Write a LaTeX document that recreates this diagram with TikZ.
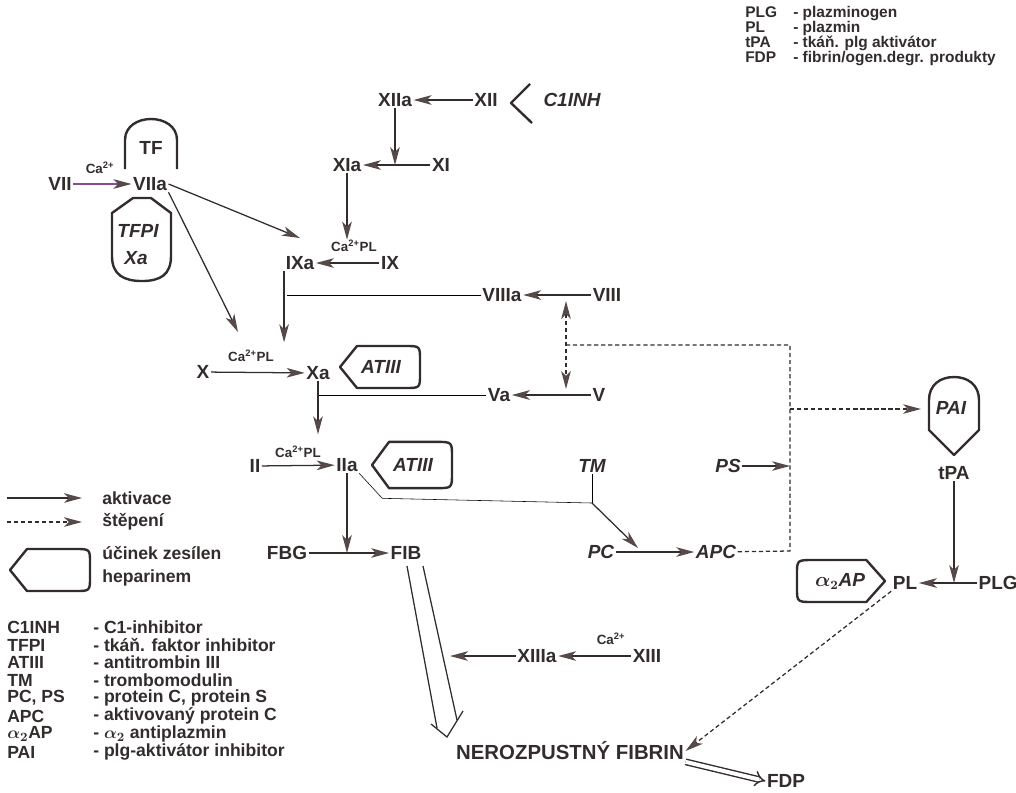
\documentclass[tikz,border=0pt]{standalone}
\usepackage{fontspec}
\setmainfont{Liberation Sans}
\usetikzlibrary{arrows.meta}

\definecolor{ink}{RGB}{50,44,44}
\definecolor{headc}{RGB}{86,74,72}
\definecolor{vio}{RGB}{140,72,150}

\tikzset{
  lbl/.style={font=\fontsize{13.5}{15}\selectfont\bfseries, inner sep=1pt, text=ink},
  inh/.style={lbl, font=\fontsize{13.5}{15}\selectfont\bfseries\itshape},
  ion/.style={font=\fontsize{9.5}{10}\selectfont\bfseries, inner sep=0pt, text=ink},
  leg/.style={font=\fontsize{12.5}{14}\selectfont\bfseries, inner sep=0pt, anchor=west, text=ink},
  legtop/.style={leg, font=\fontsize{11}{12}\selectfont\bfseries, text height=7pt, text depth=1.5pt},
  act/.style={draw=ink, line width=0.9pt,
    >={Stealth[length=4.5mm,width=2.4mm,inset=1.2mm,color=headc]}, ->},
  cleave/.style={act, dash pattern=on 3pt off 2pt},
  wall/.style={draw=ink, line width=1.7pt, line join=round},
  bulk/.style={draw=ink, line width=1pt, double, double distance=0.1cm, -{Implies}},
  heparin/.pic={
    \draw[wall] (0,0) -- (17,-21) -- (65,-21) .. controls (80,-21) and (80,-21) .. (80,-7)
      -- (80,7) .. controls (80,21) and (80,21) .. (65,21) -- (17,21) -- cycle;
  }
}

\begin{document}
\begin{tikzpicture}[x=0.025cm,y=-0.025cm]
\useasboundingbox (0,0) rectangle (1016,792);

% legend, top right
\node[legtop] at (745,14) {PLG};
\node[legtop] at (793,14) {- plazminogen};
\node[legtop] at (745,29) {PL};
\node[legtop] at (793,29) {- plazmin};
\node[legtop] at (745,44) {tPA};
\node[legtop] at (793,44) {- tkáň. plg aktivátor};
\node[legtop] at (745,59) {FDP};
\node[legtop] at (793,59) {- fibrin/ogen.degr. produkty};

% extrinsic part
\node[lbl] (VII) at (60,184) {VII};
\node[lbl] (VIIa) at (150,184) {VIIa};
\node[ion] (caVII) at (100,168) {Ca\textsuperscript{2+}};
\node[lbl] (TF) at (151,148) {TF};
\node[inh] (TFPI) at (138,231) {TFPI};
\node[inh] (TFXa) at (136,258) {Xa};
\draw[wall] (125,169) -- (125,140) .. controls (125,112) and (177,112) .. (177,140) -- (177,169);
\draw[wall] (133,198) -- (151,198) -- (171,213) -- (171,256) .. controls (171,275) and (160,281) .. (142,281)
  .. controls (124,281) and (112,275) .. (112,256) -- (112,213) -- cycle;

% contact part
\node[lbl] (XIIa) at (395,100) {XIIa};
\node[lbl] (XII) at (486,100) {XII};
\node[inh] (C1INH) at (572,100) {C1INH};
\draw[wall] (530,84) -- (511,103) -- (532,123);
\node[lbl] (XIa) at (347,165) {XIa};
\node[lbl] (XI) at (441,165) {XI};
\node[lbl] (IXa) at (300,263) {IXa};
\node[lbl] (IX) at (390,263) {IX};
\node[ion] (caIX) at (354,246) {Ca\textsuperscript{2+}PL};
\node[lbl] (VIIIa) at (502,295) {VIIIa};
\node[lbl] (VIII) at (607,295) {VIII};

% common part
\node[lbl] (X) at (203,372) {X};
\node[lbl] (Xa) at (318,373) {Xa};
\node[ion] (caX) at (251,356) {Ca\textsuperscript{2+}PL};
\pic at (340,367) {heparin};
\node[inh] (ATa) at (381,367) {ATIII};
\node[lbl] (Va) at (499,395) {Va};
\node[lbl] (V) at (599,395) {V};
\node[lbl] (II) at (255,466) {II};
\node[lbl] (IIa) at (347,465) {IIa};
\node[ion] (caII) at (298,452) {Ca\textsuperscript{2+}PL};
\pic[yscale=1.1] at (372,465) {heparin};
\node[inh] (ATb) at (413,465) {ATIII};
\node[inh] (TM) at (592,466) {TM};
\node[inh] (PS) at (728,466) {PS};
\node[lbl] (FBG) at (287,553) {FBG};
\node[lbl] (FIB) at (406,553) {FIB};
\node[inh] (PC) at (601,552) {PC};
\node[inh] (APC) at (716,552) {APC};
\node[lbl] (XIIIa) at (537,656) {XIIIa};
\node[lbl] (XIII) at (647,656) {XIII};
\node[ion] (caXIII) at (611,639) {Ca\textsuperscript{2+}};
\node[lbl, font=\fontsize{14.5}{16}\selectfont\bfseries] (NF) at (570,751) {NEROZPUSTNÝ FIBRIN};
\node[lbl] (FDP) at (786,781) {FDP};

% fibrinolysis
\draw[wall] (929,400) .. controls (929,385) and (940,377) .. (954,377) .. controls (968,377) and (979,385) .. (979,400)
  -- (979,430) -- (954,455) -- (929,430) -- cycle;
\node[inh] (PAI) at (951,408) {PAI};
\node[lbl] (tPA) at (954,473) {tPA};
\node[lbl] (PL) at (905,583) {PL};
\node[lbl, anchor=west] (PLG) at (977,583) {PLG};
\pic[xscale=-1.1] at (885,581) {heparin};
\node[inh] (A2AP) at (840,581) {{\boldmath$\alpha_2$}AP};

\coordinate (j7a) at (300,238);
\coordinate (j7b) at (238,332);
\coordinate (j9) at (287,295);
\coordinate (tmj) at (592,503);
\coordinate (d8) at (566,301);
\coordinate (d5) at (566,389);
\coordinate (dv) at (566,345);
\coordinate (dc) at (790,345);
\coordinate (dpai) at (790,409);
\coordinate (dps) at (790,466);
\coordinate (dapc) at (790,551);
\coordinate (paiw) at (921,409);
\coordinate (fibl) at (407,566);
\coordinate (fibr) at (423,566);
\coordinate (nfin) at (447,737);
\coordinate (j13) at (450,656);

% activation
\draw[act, draw=vio] (VII) -- (VIIa);
\draw[act] (VIIa.east) -- (j7a);
\draw[act] (VIIa.south east) -- (j7b);
\draw[act] (XII) -- (XIIa);
\draw[act] (XI) -- (XIa);
\draw[act] (XIIa) -- (XIIa |- XI);
\draw[act] (XIa) -- (XIa |- caIX.north);
\draw[act] (IX) -- (IXa);
\draw (VIIIa) -- (j9);
\draw[act] (IXa.south west) -- ++(0,71);
\draw[act] (VIII) -- (VIIIa);
\draw[act] (X) -- (Xa);
\draw (Va) -- (Xa.south |- Va);
\draw[act] (Xa.south) -- ++(0,53);
\draw[act] (V) -- (Va);
\draw[act] (II) -- (IIa);
\draw[act] (IIa) -- (IIa |- FBG);
\draw[act] (FBG) -- (FIB);
\draw (IIa.south east) -- ++(23,25) -- (tmj);
\draw (TM) -- (tmj);
\draw[act] (tmj) -- ++(46,45);
\draw[act] (PC) -- (APC);
\draw[act] (PS) -- (dps);
\draw[act] (XIII) -- (XIIIa);
\draw[act] (XIIIa) -- (j13);
\draw[act] (tPA) -- (tPA |- PL);
\draw[act] (PLG) -- (PL);

% cleavage
\draw[cleave, -] (APC) -- (dapc) -- (dc) -- (dv);
\draw[cleave, <->] (d8) -- (d5);
\draw[cleave] (dpai) -- (paiw);
\draw[cleave] (PL.south west) -- (NF.east);

% fibrin
\draw[draw=ink, line width=0.9pt] (fibl) -- (437,728);
\draw[draw=ink, line width=0.9pt] (fibr) -- (457,720);
\draw[draw=ink, line width=0.9pt, line join=miter] (431,724) -- (nfin) -- (463,711);
\draw[bulk] (NF.south east) -- (FDP.west);

% legend, bottom left
\draw[act] (7,498) -- ++(75,0);
\node[leg] at (102,498) {aktivace};
\draw[cleave] (7,522) -- ++(75,0);
\node[leg] at (102,522) {štěpení};
\pic at (10,570) {heparin};
\node[leg] at (102,553) {účinek zesílen};
\node[leg] at (102,578) {heparinem};
\node[leg] at (7,627) {C1INH};
\node[leg] at (93,627) {- C1-inhibitor};
\node[leg] at (7,645) {TFPI};
\node[leg] at (93,645) {- tkáň. faktor inhibitor};
\node[leg] at (7,662) {ATIII};
\node[leg] at (93,662) {- antitrombin III};
\node[leg] at (7,680) {TM};
\node[leg] at (93,680) {- trombomodulin};
\node[leg] at (7,698) {PC, PS};
\node[leg] at (93,698) {- protein C, protein S};
\node[leg] at (7,716) {APC};
\node[leg] at (93,716) {- aktivovaný protein C};
\node[leg] at (7,734) {{\boldmath$\alpha_2$}AP};
\node[leg] at (93,734) {- {\boldmath$\alpha_2$} antiplazmin};
\node[leg] at (7,752) {PAI};
\node[leg] at (93,752) {- plg-aktivátor inhibitor};
\end{tikzpicture}
\end{document}
